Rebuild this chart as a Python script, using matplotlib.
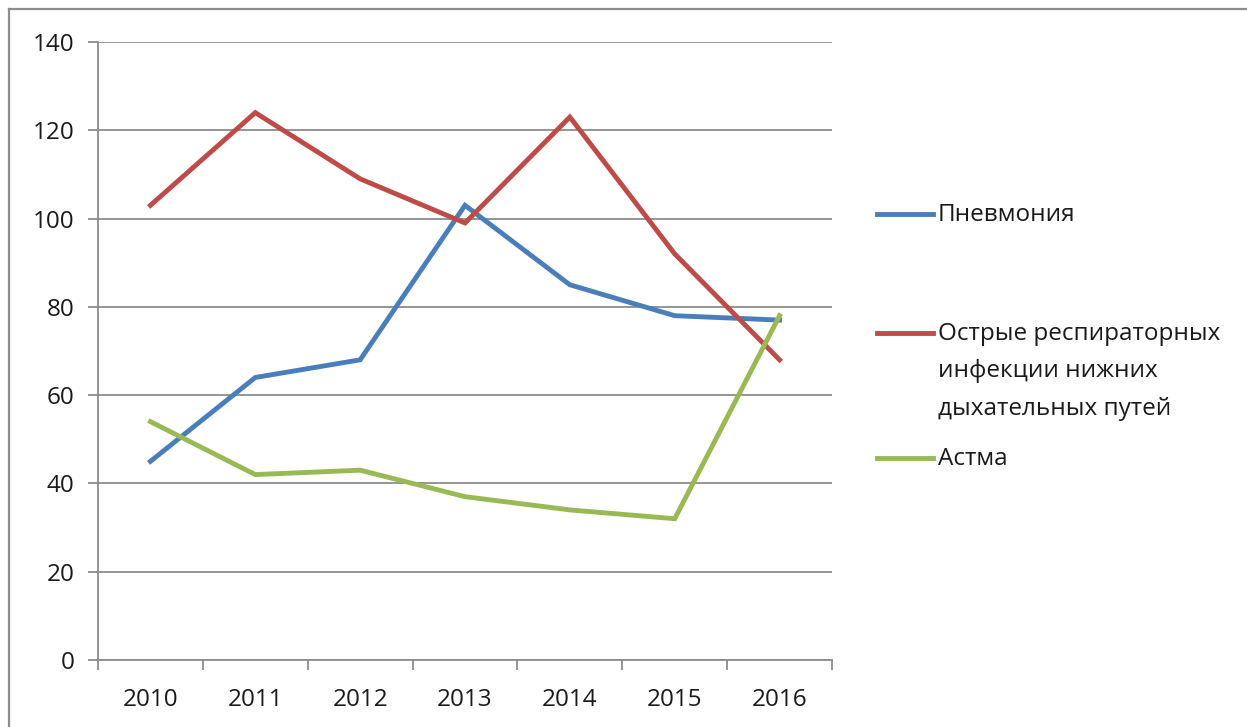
import matplotlib.pyplot as plt
from matplotlib.lines import Line2D
from matplotlib.ticker import FixedLocator

years = ['2010', '2011', '2012', '2013', '2014', '2015', '2016']
pneumonia = [45, 64, 68, 103, 85, 78, 77]
lower_resp = [103, 124, 109, 99, 123, 92, 68]
asthma = [54, 42, 43, 37, 34, 32, 78]

labels = ['Пневмония',
          'Острые респираторных\nинфекции нижних\nдыхательных путей',
          'Астма']
colors = ['#4A7EBB', '#BE4B48', '#98B954']

plt.rcParams['font.family'] = ['Open Sans', 'DejaVu Sans']

fig = plt.figure(figsize=(12.47, 7.27), dpi=100)
ax = fig.add_axes([98 / 1247, 1 - 660 / 727, (832 - 98) / 1247, (660 - 42) / 727])

x = range(len(years))
for vals, c in zip([pneumonia, lower_resp, asthma], colors):
    ax.plot(x, vals, color=c, lw=3.5, solid_joinstyle='miter', zorder=3)

ax.set_xlim(-0.5, len(years) - 0.5)
ax.set_ylim(0, 140)
ax.set_yticks(range(0, 141, 20))
ax.set_xticks(list(x))
ax.set_xticklabels(years)
ax.xaxis.set_minor_locator(FixedLocator([i - 0.5 for i in range(len(years) + 1)]))

ax.grid(axis='y', color='#8c8c8c', lw=1.3, zorder=0)
for s in ['top', 'right']:
    ax.spines[s].set_visible(False)
for s in ['left', 'bottom']:
    ax.spines[s].set_color('#8c8c8c')
    ax.spines[s].set_linewidth(1.3)

fs = 17.5
ax.tick_params(axis='y', length=7, width=1.3, color='#8c8c8c', pad=10,
               labelsize=fs, labelcolor='#1a1a1a')
ax.tick_params(axis='x', which='major', length=0, pad=20,
               labelsize=fs, labelcolor='#1a1a1a')
ax.tick_params(axis='x', which='minor', length=7, width=1.3, color='#8c8c8c')

# legend entries placed by hand to the right of the plot
entry_y = [214, 333, 458]
for c, lab, yp in zip(colors, labels, entry_y):
    fy = 1 - yp / 727
    fig.add_artist(Line2D([877 / 1247, 933 / 1247], [fy, fy], color=c, lw=3.5))
    fig.text(938 / 1247, fy + 11 / 727, lab, ha='left', va='top',
             fontsize=fs, color='#1a1a1a', linespacing=1.74)

# outer chart frame (top and left edges)
fig.add_artist(Line2D([9 / 1247, 1.0], [1 - 9 / 727, 1 - 9 / 727], color='#8c8c8c', lw=1.6))
fig.add_artist(Line2D([9 / 1247, 9 / 1247], [0, 1 - 9 / 727], color='#8c8c8c', lw=1.6))

fig.savefig('out.png', dpi=100)
